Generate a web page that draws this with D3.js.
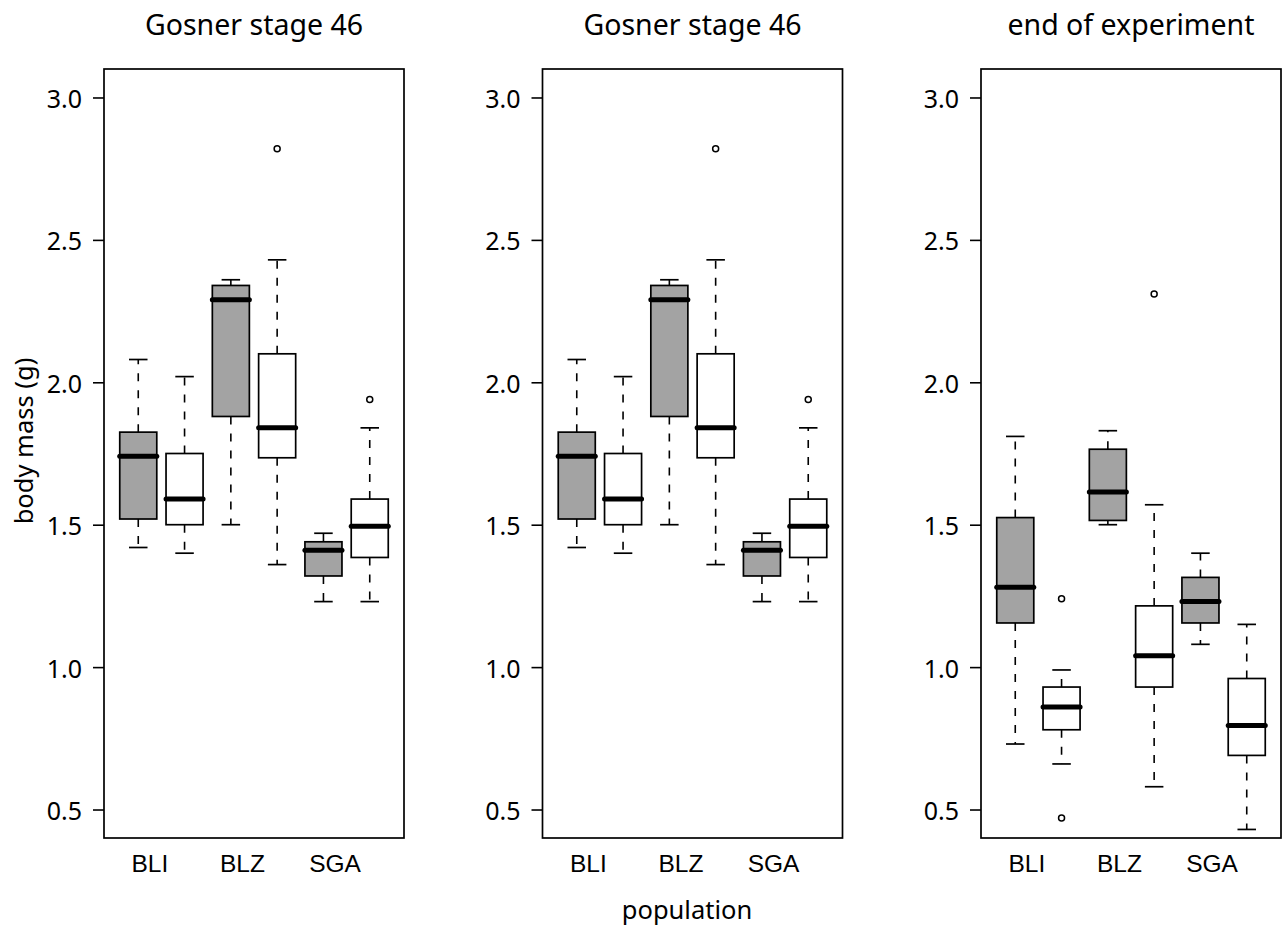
<!DOCTYPE html>
<html>
<head>
<meta charset="utf-8">
<script src="https://cdnjs.cloudflare.com/ajax/libs/d3/7.8.5/d3.min.js"></script>
<style>
  body { margin: 0; background: #fff; }
  svg text { fill: #000; }
</style>
</head>
<body>
<div id="chart"></div>
<script>
// populations and panels
let populations = ["BLI", "BLZ", "SGA"];
let panelTitles = ["Gosner stage 46", "Gosner stage 46", "end of experiment"];
let yTicks = [0.5, 1.0, 1.5, 2.0, 2.5, 3.0];

// boxes in order: BLI grey, BLI white, BLZ grey, BLZ white, SGA grey, SGA white
let boxFills = ["#a3a3a3", "#ffffff", "#a3a3a3", "#ffffff", "#a3a3a3", "#ffffff"];

// Gosner stage 46
let stageLower  = [1.42, 1.40, 1.50, 1.36, 1.23, 1.23];
let stageQ1     = [1.52, 1.50, 1.88, 1.735, 1.32, 1.385];
let stageMedian = [1.74, 1.59, 2.29, 1.84, 1.41, 1.495];
let stageQ3     = [1.825, 1.75, 2.34, 2.10, 1.44, 1.59];
let stageUpper  = [2.08, 2.02, 2.36, 2.43, 1.47, 1.84];
let stageOut    = [[], [], [], [2.82], [], [1.94]];

// end of experiment
let endLower  = [0.73, 0.66, 1.50, 0.58, 1.08, 0.43];
let endQ1     = [1.155, 0.78, 1.515, 0.93, 1.155, 0.69];
let endMedian = [1.28, 0.86, 1.615, 1.04, 1.23, 0.795];
let endQ3     = [1.525, 0.93, 1.765, 1.215, 1.315, 0.96];
let endUpper  = [1.81, 0.99, 1.83, 1.57, 1.40, 1.15];
let endOut    = [[], [1.24, 0.47], [], [2.31], [], []];

function makeBoxes(lo, q1, med, q3, hi, out) {
  return lo.map(function(d, i) {
    return { pos: i + 1, lo: lo[i], q1: q1[i], med: med[i], q3: q3[i], hi: hi[i], out: out[i], fill: boxFills[i] };
  });
}

let panels = [
  makeBoxes(stageLower, stageQ1, stageMedian, stageQ3, stageUpper, stageOut),
  makeBoxes(stageLower, stageQ1, stageMedian, stageQ3, stageUpper, stageOut),
  makeBoxes(endLower, endQ1, endMedian, endQ3, endUpper, endOut)
];

let width = 1282, height = 927;
let panelLeft = 104, panelStep = 438.5, panelW = 300;
let plotTop = 69, plotBottom = 838;

let svg = d3.select("#chart")
  .append("svg")
  .attr("width", width)
  .attr("height", height);

let y = d3.scaleLinear().domain([0.4, 3.1]).range([plotBottom, plotTop]);

let boxHalf = 0.4, capHalf = 0.2;
let sans = "'Noto Sans', 'Open Sans', sans-serif";

panels.forEach(function(boxes, p) {
  let x0 = panelLeft + p * panelStep;
  let x = d3.scaleLinear().domain([0.26, 6.74]).range([x0, x0 + panelW]);

  let g = svg.append("g");

  // title
  g.append("text")
    .attr("x", x0 + panelW / 2)
    .attr("y", 35)
    .attr("text-anchor", "middle")
    .style("font-family", sans)
    .style("font-size", "28.5px")
    .text(panelTitles[p]);

  // y axis
  let yAxis = d3.axisLeft(y)
    .tickValues(yTicks)
    .tickFormat(d3.format(".1f"))
    .tickSize(11)
    .tickPadding(11);

  let ax = g.append("g")
    .attr("transform", "translate(" + x0 + ",0)")
    .call(yAxis);
  ax.select(".domain").remove();
  ax.selectAll(".tick line").attr("stroke", "#000").attr("stroke-width", 1.6);
  ax.selectAll(".tick text")
    .attr("dy", "0.4em")
    .style("font-family", sans)
    .style("font-size", "25px");

  // category labels
  g.selectAll(".cat")
    .data(populations)
    .enter().append("text")
    .attr("class", "cat")
    .attr("x", function(d, i) { return x(1.25 + 2 * i); })
    .attr("y", 872)
    .attr("text-anchor", "middle")
    .style("font-family", "'Liberation Sans', Arial, sans-serif")
    .style("font-size", "24.5px")
    .text(function(d) { return d; });

  let box = g.selectAll(".box")
    .data(boxes)
    .enter().append("g")
    .attr("class", "box");

  // whiskers
  box.append("line")
    .attr("x1", function(d) { return x(d.pos); })
    .attr("x2", function(d) { return x(d.pos); })
    .attr("y1", function(d) { return y(d.q3); })
    .attr("y2", function(d) { return y(d.hi); })
    .attr("stroke", "#000").attr("stroke-width", 1.6)
    .attr("stroke-dasharray", "8,9");
  box.append("line")
    .attr("x1", function(d) { return x(d.pos); })
    .attr("x2", function(d) { return x(d.pos); })
    .attr("y1", function(d) { return y(d.q1); })
    .attr("y2", function(d) { return y(d.lo); })
    .attr("stroke", "#000").attr("stroke-width", 1.6)
    .attr("stroke-dasharray", "8,9");

  // caps
  ["hi", "lo"].forEach(function(k) {
    box.append("line")
      .attr("x1", function(d) { return x(d.pos - capHalf); })
      .attr("x2", function(d) { return x(d.pos + capHalf); })
      .attr("y1", function(d) { return y(d[k]); })
      .attr("y2", function(d) { return y(d[k]); })
      .attr("stroke", "#000").attr("stroke-width", 1.7);
  });

  // box body
  box.append("rect")
    .attr("x", function(d) { return x(d.pos - boxHalf); })
    .attr("width", function(d) { return x(d.pos + boxHalf) - x(d.pos - boxHalf); })
    .attr("y", function(d) { return y(d.q3); })
    .attr("height", function(d) { return y(d.q1) - y(d.q3); })
    .attr("fill", function(d) { return d.fill; })
    .attr("stroke", "#000").attr("stroke-width", 1.7);

  // median
  box.append("line")
    .attr("x1", function(d) { return x(d.pos - boxHalf); })
    .attr("x2", function(d) { return x(d.pos + boxHalf); })
    .attr("y1", function(d) { return y(d.med); })
    .attr("y2", function(d) { return y(d.med); })
    .attr("stroke", "#000").attr("stroke-width", 5)
    .attr("stroke-linecap", "round");

  // outliers
  box.selectAll("circle")
    .data(function(d) { return d.out.map(function(v) { return { pos: d.pos, v: v }; }); })
    .enter().append("circle")
    .attr("cx", function(d) { return x(d.pos); })
    .attr("cy", function(d) { return y(d.v); })
    .attr("r", 3)
    .attr("fill", "none")
    .attr("stroke", "#000").attr("stroke-width", 1.5);

  // frame
  g.append("rect")
    .attr("x", x0).attr("y", plotTop)
    .attr("width", panelW).attr("height", plotBottom - plotTop)
    .attr("fill", "none")
    .attr("stroke", "#000").attr("stroke-width", 1.7);
});

// axis titles
svg.append("text")
  .attr("transform", "translate(33,441) rotate(-90)")
  .attr("text-anchor", "middle")
  .style("font-family", sans)
  .style("font-size", "25.5px")
  .text("body mass (g)");

svg.append("text")
  .attr("x", 687)
  .attr("y", 919)
  .attr("text-anchor", "middle")
  .style("font-family", sans)
  .style("font-size", "25.5px")
  .text("population");
</script>
</body>
</html>
